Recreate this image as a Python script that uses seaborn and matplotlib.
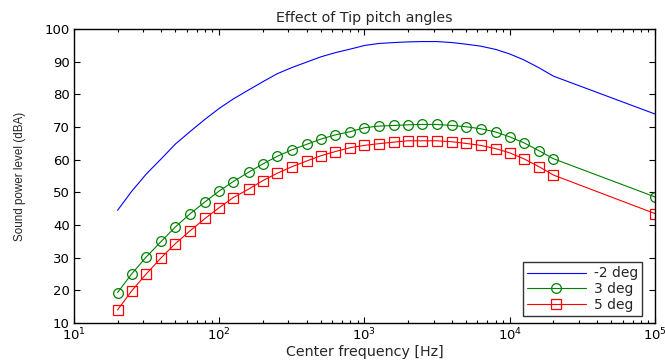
import matplotlib
matplotlib.use("Agg")
import matplotlib.pyplot as plt
import seaborn as sns
import pandas as pd
from matplotlib.ticker import LogLocator, NullFormatter

freqs = [20, 25, 31.5, 40, 50, 63, 80, 100, 125, 160, 200, 250, 315, 400, 500,
         630, 800, 1000, 1250, 1600, 2000, 2500, 3150, 4000, 5000, 6300, 8000,
         10000, 12500, 16000, 20000, 100000]

spl_m2 = [44.5, 50.3, 55.6, 60.3, 64.8, 68.6, 72.4, 75.7, 78.6, 81.4, 83.9, 86.3,
          88.2, 89.9, 91.5, 92.8, 93.9, 95.0, 95.6, 95.9, 96.1, 96.2, 96.2, 95.9,
          95.4, 94.8, 93.8, 92.4, 90.6, 88.1, 85.6, 74.0]

spl_3 = [19.3, 25.0, 30.2, 35.0, 39.4, 43.4, 47.1, 50.4, 53.3, 56.2, 58.7, 61.0,
         63.0, 64.7, 66.3, 67.6, 68.6, 69.8, 70.3, 70.5, 70.7, 70.8, 70.8, 70.5,
         70.1, 69.5, 68.5, 67.0, 65.2, 62.7, 60.3, 48.6]

spl_5 = [14.0, 19.8, 25.0, 30.0, 34.3, 38.2, 42.0, 45.3, 48.4, 51.0, 53.6, 55.8,
         57.8, 59.6, 61.2, 62.5, 63.7, 64.4, 64.9, 65.4, 65.8, 65.8, 65.8, 65.5,
         65.0, 64.4, 63.4, 62.1, 60.3, 57.8, 55.3, 43.5]

labels = ['-2 deg', '3 deg', '5 deg']

sns.set_style("ticks")
plt.rcParams['font.family'] = ['DejaVu Sans']
plt.rcParams['font.size'] = 9.5
plt.rcParams['mathtext.fontset'] = 'dejavusans'

fig = plt.figure(figsize=(6.65, 3.6), dpi=100)
ax = fig.add_axes([0.111, 0.103, 0.874, 0.816])

series = [
    (spl_m2, labels[0], 'blue', None),
    (spl_3, labels[1], (0, 0.5, 0), 'o'),
    (spl_5, labels[2], 'red', 's'),
]
for vals, lab, col, mk in series:
    df = pd.DataFrame({'freq': freqs, 'spl': vals})
    kw = {}
    if mk is not None:
        kw = dict(marker=mk, markersize=7, markerfacecolor='none',
                  markeredgecolor=col, markeredgewidth=0.9)
    sns.lineplot(data=df, x='freq', y='spl', ax=ax, color=col, linewidth=0.8,
                 label=lab, **kw)

ax.set_xscale('log')
ax.set_xlim(10, 1e5)
ax.set_ylim(10, 100)
ax.set_yticks(range(10, 101, 10))
ax.xaxis.set_minor_locator(LogLocator(base=10, subs=range(2, 10)))
ax.xaxis.set_minor_formatter(NullFormatter())
ax.tick_params(which='both', direction='in', top=True, right=True,
               labelsize=9.5, width=0.8, colors='black', pad=3)
ax.tick_params(which='major', length=4)
ax.tick_params(which='minor', length=2)
for sp in ax.spines.values():
    sp.set_linewidth(1.0)
    sp.set_color('black')

ax.set_title('Effect of Tip pitch angles', fontsize=10.3, pad=5)
ax.set_xlabel('Center frequency [Hz]', fontsize=10.3, labelpad=1)
ax.set_ylabel('Sound power level (dBA)', fontsize=8.4,
              family=['Liberation Sans'], labelpad=13)

leg = ax.legend(loc='lower right', bbox_to_anchor=(0.99, 0.0), fontsize=10,
                frameon=True, fancybox=False, edgecolor='black',
                handlelength=4.2, borderpad=0.3, labelspacing=0.12,
                handletextpad=0.6)
leg.get_frame().set_linewidth(1.0)

fig.savefig('out.png', dpi=100)
